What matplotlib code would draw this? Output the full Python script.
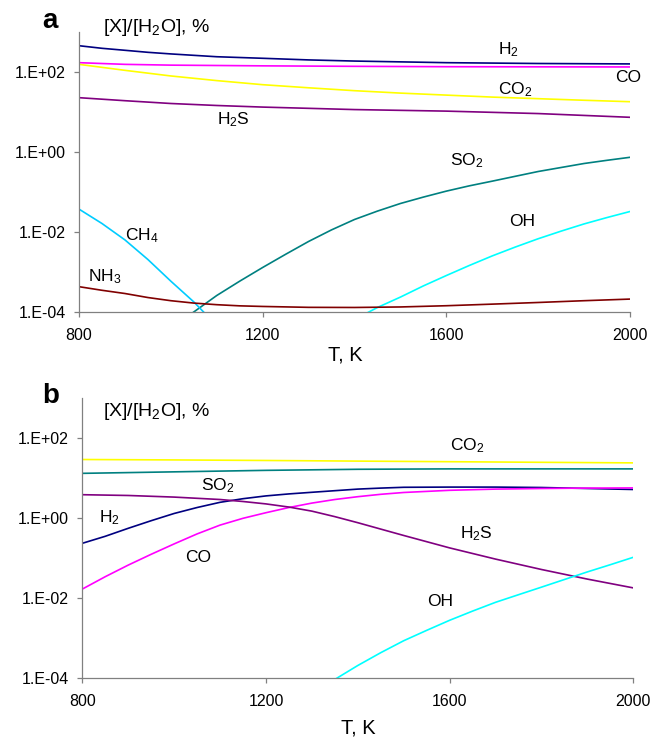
import numpy as np
import matplotlib
matplotlib.use("Agg")
import matplotlib.pyplot as plt

plt.rcParams['font.family'] = ['Liberation Sans', 'DejaVu Sans']
plt.rcParams['mathtext.default'] = 'regular'

# ---- panel a: [X]/[H2O], % vs T, K ----
t_h2_a = [800, 850, 900, 950, 1000, 1100, 1200, 1300, 1400, 1600, 1800, 2000]
h2_a = [462, 398, 355, 316, 288, 245, 224, 204, 191, 174, 166, 162]
t_co_a = [800, 900, 1000, 1200, 1400, 1600, 2000]
co_a = [174, 158, 151, 145, 141, 138, 136]
t_co2_a = [800, 900, 1000, 1100, 1200, 1300, 1400, 1500, 1600, 1700, 1800, 1900, 2000]
co2_a = [158, 112, 81, 62, 49, 41, 34.7, 30.2, 26.9, 24.0, 21.9, 20.0, 18.4]
t_h2s_a = [800, 900, 1000, 1100, 1200, 1400, 1600, 1800, 2000]
h2s_a = [23.2, 19.5, 16.6, 14.8, 13.5, 11.7, 10.7, 9.3, 7.5]
t_so2_a = [1049, 1100, 1150, 1200, 1250, 1300, 1350, 1400, 1450, 1500,
           1550, 1600, 1650, 1700, 1750, 1800, 1850, 1900, 1950, 2000]
so2_a = [1.0e-4, 2.63e-4, 6.0e-4, 1.32e-3, 2.82e-3, 5.9e-3, 0.0115, 0.0209, 0.0339, 0.0525,
         0.0759, 0.107, 0.145, 0.19, 0.251, 0.331, 0.417, 0.525, 0.631, 0.75]
t_oh_a = [1430, 1450, 1500, 1550, 1600, 1650, 1700, 1750, 1800, 1850, 1900, 1950, 2000]
oh_a = [1.0e-4, 1.32e-4, 2.4e-4, 4.57e-4, 8.3e-4, 1.48e-3, 2.57e-3, 4.27e-3, 6.9e-3,
        0.0107, 0.0162, 0.0234, 0.0331]
t_ch4_a = [800, 850, 900, 950, 1000, 1050, 1072]
ch4_a = [0.038, 0.0166, 6.46e-3, 2.09e-3, 6.0e-4, 1.82e-4, 1.0e-4]
t_nh3_a = [800, 850, 900, 950, 1000, 1050, 1100, 1150, 1200, 1300, 1400, 1500,
           1600, 1700, 1800, 1900, 2000]
nh3_a = [4.37e-4, 3.55e-4, 2.95e-4, 2.34e-4, 1.95e-4, 1.70e-4, 1.55e-4, 1.45e-4, 1.40e-4,
         1.33e-4, 1.32e-4, 1.36e-4, 1.46e-4, 1.60e-4, 1.76e-4, 1.95e-4, 2.14e-4]

# ---- panel b ----
t_co2_b = [800, 1000, 1200, 1400, 1600, 1800, 2000]
co2_b = [29.5, 28.8, 27.9, 26.9, 26.0, 25.1, 24.3]
t_so2_b = [800, 1000, 1200, 1400, 1600, 1800, 2000]
so2_b = [13.3, 14.5, 15.8, 16.8, 17.2, 17.2, 17.2]
t_h2_b = [800, 850, 900, 950, 1000, 1050, 1100, 1150, 1200, 1250, 1300, 1350, 1400,
          1450, 1500, 1600, 1700, 1800, 1900, 2000]
h2_b = [0.237, 0.355, 0.562, 0.871, 1.32, 1.86, 2.51, 3.09, 3.63, 4.07, 4.47, 4.90, 5.37,
        5.69, 5.96, 6.03, 6.03, 5.89, 5.56, 5.25]
t_co_b = [800, 850, 900, 950, 1000, 1050, 1100, 1150, 1200, 1250, 1300, 1350, 1400,
          1450, 1500, 1600, 1700, 1800, 1900, 2000]
co_b = [0.017, 0.0347, 0.0676, 0.126, 0.229, 0.407, 0.676, 1.0, 1.38, 1.86, 2.40, 2.95,
        3.47, 3.98, 4.42, 5.01, 5.37, 5.56, 5.69, 5.75]
t_h2s_b = [800, 900, 1000, 1100, 1150, 1200, 1250, 1300, 1350, 1400, 1450, 1500,
           1600, 1700, 1800, 1900, 2000]
h2s_b = [3.89, 3.72, 3.39, 2.95, 2.63, 2.29, 1.91, 1.51, 1.10, 0.776, 0.537, 0.372,
         0.182, 0.0955, 0.0525, 0.0302, 0.0182]
t_oh_b = [1354, 1400, 1450, 1500, 1550, 1600, 1650, 1700, 1750, 1800, 1850, 1900, 1950, 2000]
oh_b = [1.0e-4, 2.09e-4, 4.37e-4, 8.7e-4, 1.58e-3, 2.82e-3, 4.79e-3, 7.94e-3, 0.0123,
        0.019, 0.0295, 0.0457, 0.0692, 0.106]

yticks = [1e-4, 1e-2, 1e0, 1e2]
ytick_labels = ['1.E-04', '1.E-02', '1.E+00', '1.E+02']
xticks = [800, 1200, 1600, 2000]

W, H = 651, 737
fig = plt.figure(figsize=(W / 100, H / 100), dpi=100)


def px_text(x, y, s, **kw):
    # place text at pixel position (from top-left)
    kw.setdefault('ha', 'center')
    kw.setdefault('va', 'center')
    kw.setdefault('fontsize', 12.5)
    fig.text(x / W, 1 - y / H, s, **kw)


def style_axes(ax):
    ax.set_yscale('log')
    ax.set_ylim(1e-4, 1e3)
    ax.set_xlim(800, 2000)
    ax.set_yticks(yticks)
    ax.set_yticklabels(ytick_labels)
    ax.yaxis.set_minor_locator(matplotlib.ticker.NullLocator())
    ax.set_xticks(xticks)
    ax.set_xticklabels([str(v) for v in xticks])
    for s in ['top', 'right']:
        ax.spines[s].set_visible(False)
    for s in ['left', 'bottom']:
        ax.spines[s].set_color('#808080')
        ax.spines[s].set_linewidth(0.9)
    ax.tick_params(axis='both', direction='out', length=3.5, width=0.9,
                   color='#808080', labelsize=11.5, pad=6)
    ax.tick_params(axis='x', pad=8)


lw = 1.2

axa = fig.add_axes([79 / W, 1 - 312.3 / H, 551 / W, 280 / H])
axa.plot(t_h2_a, h2_a, color='#000080', lw=lw)
axa.plot(t_co_a, co_a, color='#FF00FF', lw=lw)
axa.plot(t_co2_a, co2_a, color='#FFFF00', lw=lw)
axa.plot(t_h2s_a, h2s_a, color='#800080', lw=lw)
axa.plot(t_so2_a, so2_a, color='#008080', lw=lw)
axa.plot(t_oh_a, oh_a, color='#00FFFF', lw=lw)
axa.plot(t_ch4_a, ch4_a, color='#00CCFF', lw=lw)
axa.plot(t_nh3_a, nh3_a, color='#800000', lw=lw)
style_axes(axa)

axb = fig.add_axes([82.3 / W, 1 - 678.3 / H, 551 / W, 280 / H])
axb.plot(t_co2_b, co2_b, color='#FFFF00', lw=lw)
axb.plot(t_so2_b, so2_b, color='#008080', lw=lw)
axb.plot(t_h2_b, h2_b, color='#000080', lw=lw)
axb.plot(t_co_b, co_b, color='#FF00FF', lw=lw)
axb.plot(t_h2s_b, h2s_b, color='#800080', lw=lw)
axb.plot(t_oh_b, oh_b, color='#00FFFF', lw=lw)
style_axes(axb)

# panel letters and axis titles
px_text(50, 21, 'a', fontsize=20, fontweight='bold')
px_text(51, 396, 'b', fontsize=20, fontweight='bold')
px_text(103, 27, '[X]/[H$_2$O], %', ha='left', fontsize=14)
px_text(103, 412, '[X]/[H$_2$O], %', ha='left', fontsize=14)
px_text(345, 355, 'T, K', fontsize=14.5)
px_text(358, 728, 'T, K', fontsize=14.5)

# species labels, panel a
px_text(508, 50, 'H$_2$')
px_text(628, 78, 'CO')
px_text(515, 90, 'CO$_2$')
px_text(233, 120, 'H$_2$S')
px_text(467, 161, 'SO$_2$')
px_text(522, 222, 'OH')
px_text(142, 236, 'CH$_4$')
px_text(105, 277, 'NH$_3$')

# species labels, panel b
px_text(467, 446, 'CO$_2$')
px_text(218, 486, 'SO$_2$')
px_text(109, 518, 'H$_2$')
px_text(198, 558, 'CO')
px_text(476, 534, 'H$_2$S')
px_text(440, 602, 'OH')

fig.savefig('out.png', dpi=100)
